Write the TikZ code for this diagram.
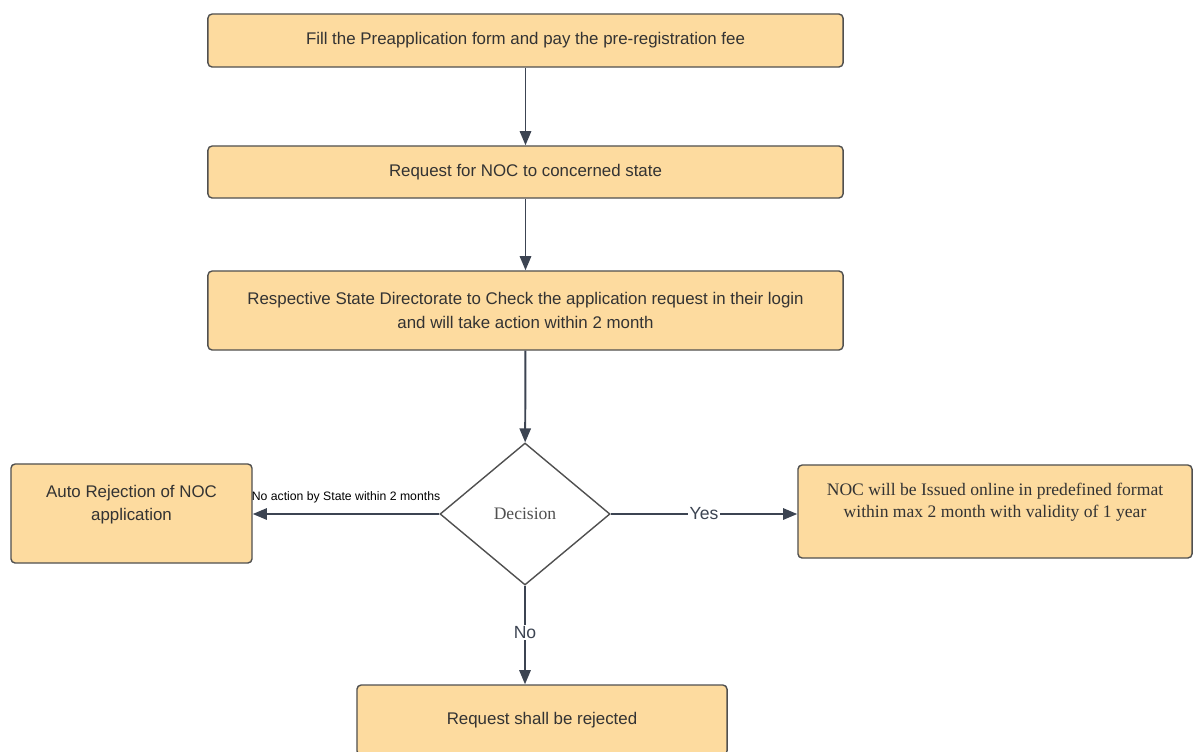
\documentclass[tikz,border=0pt]{standalone}
\usepackage{fontspec}
\setmainfont{Liberation Sans}
\newfontfamily\garafont{Liberation Serif}
\usetikzlibrary{positioning, shapes.geometric, arrows.meta}
\definecolor{flowfill}{HTML}{FDDB9F}
\definecolor{flowline}{HTML}{3C4452}
\definecolor{flowtext}{HTML}{333333}
\definecolor{flowedge}{HTML}{505050}

\begin{document}
\begin{tikzpicture}[x=0.025cm, y=-0.025cm,
    stepbox/.style={draw=flowedge, fill=flowfill, rounded corners=3pt, text=flowtext,
          align=center, line width=1pt, font=\fontsize{12}{16.5}\selectfont},
    decide/.style={diamond, draw=flowedge, fill=white, line width=1pt,
          minimum width=4.25cm, minimum height=3.55cm, inner sep=0pt, text=flowedge,
          font=\garafont\fontsize{12.5}{15}\selectfont},
    flow/.style={-{Triangle[length=10pt,width=8pt]}, line width=1.4pt, color=flowline},
    edgelabel/.style={fill=white, inner sep=1pt, text=flowline, font=\fontsize{12.5}{15}\selectfont}]
    \useasboundingbox (0,0) rectangle (1194,751);
    \node[stepbox, minimum width=15.875cm, minimum height=1.325cm] (fillform) at (525.5,40.5)
          {Fill the Preapplication form and pay the pre-registration fee};
    \node[stepbox, minimum width=15.875cm, minimum height=1.3cm] (nocreq) at (525.5,172)
          {Request for NOC to concerned state};
    \node[stepbox, minimum width=15.875cm, minimum height=1.975cm] (statecheck) at (525.5,310.5)
          {Respective State Directorate to Check the application request in their login\\and will take action within 2 month};
    \node[decide] (decision) at (525,514) {Decision};
    \node[stepbox, minimum width=6.025cm, minimum height=2.475cm, text depth=15pt] (autoreject) at (131.5,513.5)
          {Auto Rejection of NOC\\application};
    \node[stepbox, font=\garafont\fontsize{12.5}{16}\selectfont, minimum width=9.85cm, minimum height=2.325cm,
          text depth=16pt] (issued) at (995,511.5)
          {NOC will be Issued online in predefined format\\within max 2 month with validity of 1 year};
    \node[stepbox, minimum width=9.25cm, minimum height=1.75cm] (rejected) at (542,720)
          {Request shall be rejected};
    \draw[flow] (fillform) -- (nocreq);
    \draw[flow] (nocreq) -- (statecheck);
    \draw[flow] (statecheck) -- (decision);
    \draw[flow] (decision.east) -- node[edgelabel, pos=0.5] {Yes} (issued.west |- decision.east);
    \draw[flow] (decision.west) -- node[pos=0.5, above=7pt, inner sep=0pt, text=black,
          font=\fontsize{8.7}{10}\selectfont] {No action by State within 2 months} (autoreject.east |- decision.west);
    \draw[flow] (decision.south) -- node[edgelabel, pos=0.47] {No} (decision.south |- rejected.north);
\end{tikzpicture}
\end{document}
